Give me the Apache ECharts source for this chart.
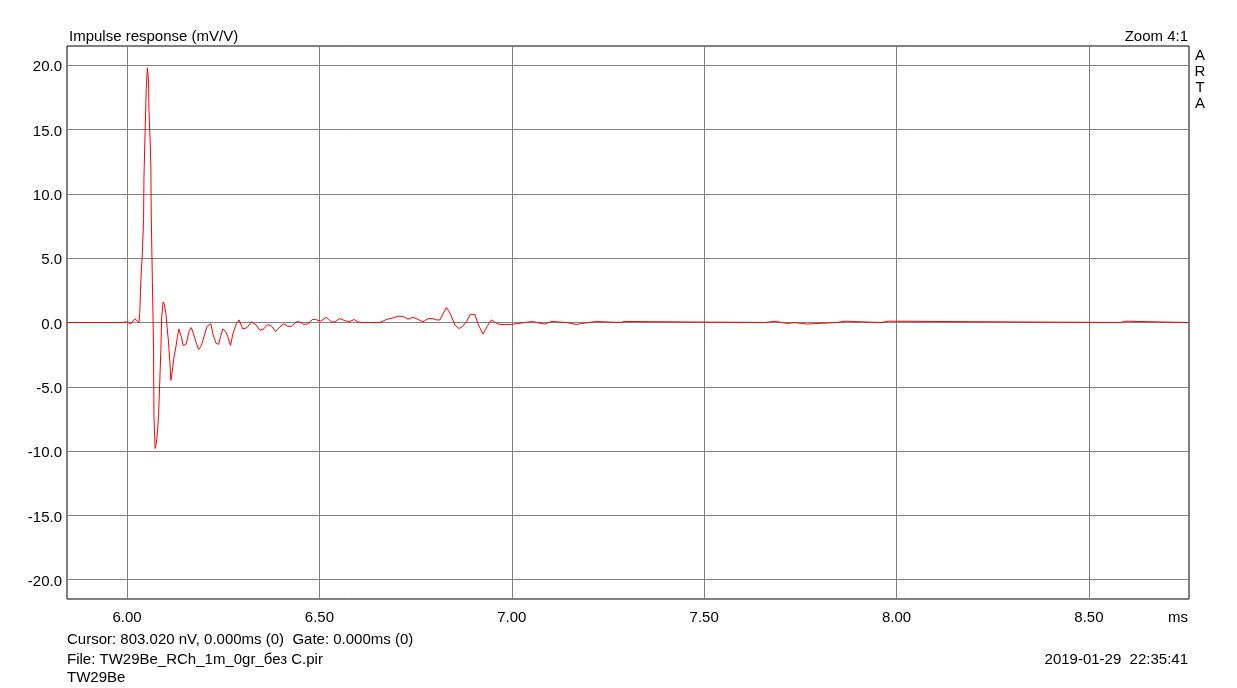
<!DOCTYPE html>
<html>
<head>
<meta charset="utf-8">
<script src="https://cdn.jsdelivr.net/npm/echarts@6/dist/echarts.min.js"></script>
<style>
html,body{margin:0;padding:0;background:#fff;}
#c{width:1237px;height:688px;}
</style>
</head>
<body>
<div id="c"></div>
<script>
// ---- data ----
const timeMs = [
  5.844, 5.985, 5.988, 5.998, 6.010, 6.020, 6.031, 6.033, 6.035, 6.037,
  6.040, 6.043, 6.044, 6.047, 6.050, 6.053, 6.056, 6.057, 6.060, 6.062,
  6.063, 6.066, 6.069, 6.070, 6.073, 6.076, 6.079, 6.082, 6.085, 6.088,
  6.090, 6.094, 6.097, 6.101, 6.104, 6.108, 6.111, 6.114, 6.118, 6.121,
  6.127, 6.131, 6.135, 6.141, 6.146, 6.153, 6.157, 6.161, 6.167, 6.173,
  6.180, 6.186, 6.193, 6.202, 6.208, 6.218, 6.223, 6.231, 6.238, 6.243,
  6.249, 6.256, 6.262, 6.269, 6.275, 6.284, 6.291, 6.301, 6.312, 6.323,
  6.336, 6.345, 6.355, 6.366, 6.376, 6.386, 6.397, 6.407, 6.418, 6.427,
  6.440, 6.449, 6.459, 6.470, 6.482, 6.490, 6.503, 6.518, 6.531, 6.540,
  6.553, 6.566, 6.577, 6.590, 6.600, 6.610, 6.657, 6.674, 6.691, 6.707,
  6.719, 6.730, 6.743, 6.756, 6.769, 6.782, 6.795, 6.804, 6.813, 6.830,
  6.840, 6.852, 6.863, 6.872, 6.882, 6.892, 6.904, 6.912, 6.925, 6.936,
  6.947, 6.955, 6.967, 6.982, 6.999, 7.003,
  7.034, 7.035, 7.054, 7.055,
  7.064, 7.065, 7.085, 7.086,
  7.096, 7.097, 7.105, 7.106,
  7.142, 7.143, 7.167, 7.168,
  7.200, 7.201, 7.220, 7.221,
  7.283, 7.284, 7.292, 7.293,
  7.657, 7.658, 7.687, 7.688,
  7.701, 7.702, 7.717, 7.718,
  7.733, 7.734, 7.768, 7.769,
  7.844, 7.845, 7.867, 7.868,
  7.959, 7.960, 7.979, 7.980,
  8.582, 8.583, 8.594, 8.595,
  8.760
];
const responseMv = [
  0, 0, -0.05, 0.05, -0.1, 0.3, 0.0, 0.7, 2.4, 3.9,
  5.5, 8.0, 11.3, 14.8, 18.2, 19.8, 18.7, 16.5, 14.2, 12.0,
  8.2, 3.1, -2.1, -7.3, -9.8, -9.4, -8.6, -7.2, -4.7, -2.1,
  0.4, 1.6, 1.4, 0.7, -0.3, -1.6, -2.9, -4.5, -3.7, -2.9,
  -1.9, -1.1, -0.5, -1.1, -1.8, -1.7, -1.3, -0.7, -0.4, -0.9,
  -1.6, -2.1, -1.8, -0.9, -0.3, -0.1, -0.9, -1.6, -1.7, -1.1,
  -0.5, -0.7, -1.1, -1.8, -0.9, -0.1, 0.2, -0.5, -0.4, 0.05,
  -0.2, -0.6, -0.5, -0.15, -0.3, -0.7, -0.35, -0.1, -0.3, -0.3,
  0.05, 0.05, -0.15, -0.1, 0.23, 0.23, 0.1, 0.4, 0.05, 0.05,
  0.3, 0.15, 0.05, 0.23, 0.05, 0.0, 0.0, 0.23, 0.36, 0.5,
  0.45, 0.26, 0.4, 0.25, 0.05, 0.3, 0.3, 0.2, 0.2, 1.17,
  0.7, -0.2, -0.47, -0.3, 0.05, 0.63, 0.63, -0.1, -0.9, -0.3,
  0.2, 0.05, -0.15, -0.15, -0.15, 0,
  0, 0.08, 0.08, 0,
  0, -0.12, -0.12, 0,
  0, 0.08, 0.08, 0,
  0, -0.15, -0.15, 0,
  0, 0.08, 0.08, 0,
  0, 0.08, 0.08, 0,
  0, 0.1, 0.1, 0,
  0, -0.08, -0.08, 0,
  0, -0.12, -0.12, 0,
  0, 0.1, 0.1, 0,
  0, 0.1, 0.1, 0,
  0, 0.1, 0.1, 0,
  0
];
const xTicks = [6.0, 6.5, 7.0, 7.5, 8.0, 8.5];
const yTicks = [-20, -15, -10, -5, 0, 5, 10, 15, 20];
const xRange = [5.844, 8.76];
const yRange = [-21.5, 21.5];
const titleText = 'Impulse response (mV/V)';
const zoomText = 'Zoom 4:1';
const brandLetters = ['A', 'R', 'T', 'A'];
const unitText = 'ms';
const cursorText = 'Cursor: 803.020 nV, 0.000ms (0)  Gate: 0.000ms (0)';
const fileText = 'File: TW29Be_RCh_1m_0gr_\u0431\u0435\u0437 C.pir';
const nameText = 'TW29Be';
const dateText = '2019-01-29  22:35:41';

// ---- chart ----
const FONT = '"Liberation Sans", Arial, sans-serif';
const FS = 15;
const seriesData = timeMs.map((t, i) => [t, responseMv[i]]);

function txt(text, x, y, align) {
  return {
    type: 'text', x: x, y: y, silent: true,
    style: { text: text, fill: '#000', font: FS + 'px ' + FONT,
             textAlign: align || 'left', textVerticalAlign: 'middle' }
  };
}
const graphics = [
  txt(titleText, 69, 36.5, 'left'),
  txt(zoomText, 1188, 36.5, 'right'),
  txt(unitText, 1188, 618, 'right'),
  txt(cursorText, 67, 639.5, 'left'),
  txt(fileText, 67, 660, 'left'),
  txt(nameText, 67, 678, 'left'),
  txt(dateText, 1188, 660, 'right')
];
brandLetters.forEach((ch, i) => graphics.push(txt(ch, 1200, 55.5 + i * 16, 'center')));

const chart = echarts.init(document.getElementById('c'), null, { renderer: 'canvas' });
chart.setOption({
  animation: false,
  backgroundColor: '#fff',
  grid: { left: 67, top: 46, right: 48, bottom: 89, show: true,
          borderColor: '#000', borderWidth: 1, backgroundColor: 'transparent' },
  xAxis: {
    type: 'value', min: xRange[0], max: xRange[1],
    axisLine: { show: false },
    axisTick: { show: false, customValues: xTicks },
    splitLine: { show: true, lineStyle: { color: '#808080', width: 1 } },
    axisLabel: { customValues: xTicks, color: '#000', fontSize: FS, fontFamily: FONT,
                 margin: 11, formatter: v => v.toFixed(2) }
  },
  yAxis: {
    type: 'value', min: yRange[0], max: yRange[1],
    axisLine: { show: false },
    axisTick: { show: false, customValues: yTicks },
    splitLine: { show: true, lineStyle: { color: '#808080', width: 1 } },
    axisLabel: { customValues: yTicks, color: '#000', fontSize: FS, fontFamily: FONT,
                 margin: 5, verticalAlign: 'top', lineHeight: 4,
                 formatter: v => v.toFixed(1) }
  },
  series: [{
    type: 'line', data: seriesData, showSymbol: false, symbol: 'none',
    lineStyle: { color: '#ff0000', width: 1 }, clip: true, z: 5
  }],
  graphic: graphics
});
</script>
</body>
</html>
